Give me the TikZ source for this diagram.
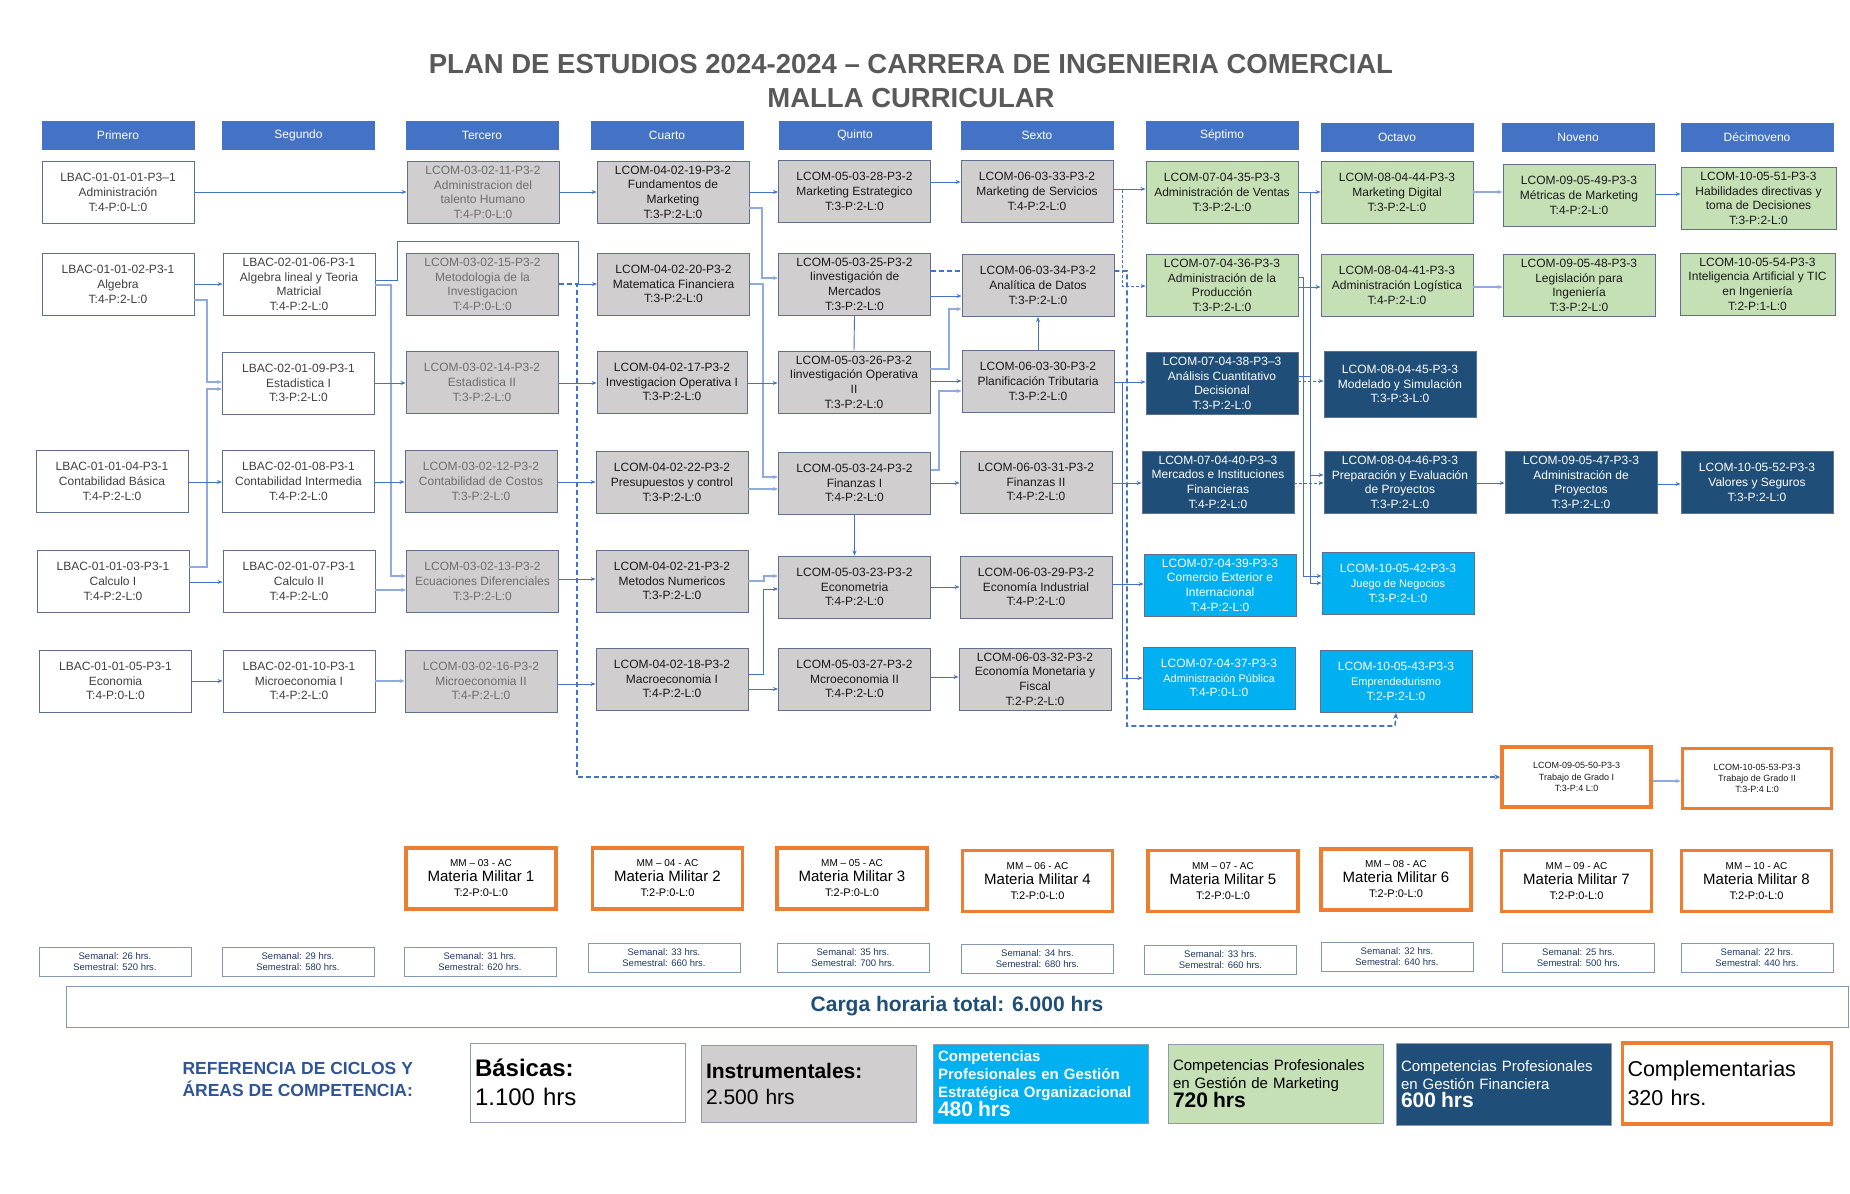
\documentclass[tikz,border=0pt]{standalone}
\usepackage{fontspec}
\setmainfont{Liberation Sans}
\usetikzlibrary{arrows.meta}

\definecolor{hdrb}{HTML}{4472C4}
\definecolor{bord}{HTML}{5F6F8C}
\definecolor{insf}{HTML}{D0CECE}
\definecolor{mktf}{HTML}{C5E0B4}
\definecolor{finf}{HTML}{1F4E79}
\definecolor{orgf}{HTML}{00B0F0}
\definecolor{orng}{HTML}{ED7D31}
\definecolor{lnk}{HTML}{4472C4}
\definecolor{lnkl}{HTML}{8FAADC}
\definecolor{semt}{HTML}{1F3864}
\definecolor{semb}{HTML}{8497B0}
\definecolor{ttlg}{HTML}{595959}
\definecolor{txtb}{HTML}{404040}
\definecolor{txtt}{HTML}{6E6E6E}
\definecolor{txtd}{HTML}{1A1A1A}
\definecolor{refb}{HTML}{2F5597}
\definecolor{cargb}{HTML}{1F4E79}

\newcommand{\milit}[2]{{\fontsize{10}{12}\selectfont MM – #1 - AC}\\[3pt]{\fontsize{15}{17}\selectfont Materia Militar #2}\\[3pt]{\fontsize{11}{13}\selectfont T:2-P:0-L:0}}

\begin{document}
\begin{tikzpicture}[x=1pt, y=-1pt,
    cur/.style={draw=bord, line width=0.9pt, minimum width=152pt, minimum height=62pt, inner sep=1pt, align=center, text=txtd, font=\fontsize{12}{14.7}\selectfont},
    bas/.style={cur, fill=white, text=txtb},
    ins/.style={cur, fill=insf},
    ter/.style={ins, text=txtt},
    mkt/.style={cur, fill=mktf},
    fin/.style={cur, fill=finf, text=white},
    org/.style={cur, fill=orgf, text=white},
    tgr/.style={cur, draw=orng, line width=3.5pt, minimum width=149pt, minimum height=60pt, fill=white, font=\fontsize{9}{11.3}\selectfont},
    mil/.style={draw=orng, line width=3.5pt, minimum width=150pt, minimum height=61pt, inner sep=1pt, align=center, fill=white, text=black},
    hdr/.style={draw=hdrb, fill=hdrb, minimum width=152pt, minimum height=28pt, text=white, font=\fontsize{12}{14}\selectfont},
    sem/.style={draw=semb, line width=0.9pt, minimum width=152pt, minimum height=29pt, inner sep=1pt, align=center, text=semt, font=\fontsize{9.5}{11}\selectfont},
    leg/.style={draw=bord!70, line width=0.9pt, minimum height=79pt, text width=205pt, inner sep=5pt, align=left},
    arr/.style={-{Stealth[length=5pt, width=4pt]}, draw=lnk, line width=0.9pt},
    arrl/.style={arr, draw=lnkl, line width=1.4pt},
    dsh/.style={draw=lnk, line width=1.6pt, dash pattern=on 5pt off 3pt},
    dot/.style={arr, line width=0.8pt, dash pattern=on 3pt off 2pt}
]
\useasboundingbox (0,0) rectangle (1850,1194);

% title
\node[align=center, text=ttlg, font=\bfseries\fontsize{27.5}{34}\selectfont] (title) at (911,81) {PLAN DE ESTUDIOS 2024-2024 – CARRERA DE INGENIERIA COMERCIAL\\MALLA CURRICULAR};

% semesters
\node[hdr] (h1) at (118,135) {Primero};
\node[hdr] (h2) at (298.5,135) {Segundo};
\node[hdr] (h3) at (482,135) {Tercero};
\node[hdr] (h4) at (667,135.5) {Cuarto};
\node[hdr] (h5) at (855,135.5) {Quinto};
\node[hdr] (h6) at (1037,135) {Sexto};
\node[hdr] (h7) at (1222,135) {Séptimo};
\node[hdr] (h8) at (1397,137.5) {Octavo};
\node[hdr] (h9) at (1578,137.5) {Noveno};
\node[hdr] (h10) at (1757,137.5) {Décimoveno};

% first semester
\node[bas] (s1adm) at (118,192.5) {LBAC-01-01-01-P3–1\\Administración\\T:4-P:0-L:0};
\node[bas] (s1alg) at (118,284.5) {LBAC-01-01-02-P3-1\\Algebra\\T:4-P:2-L:0};
\node[bas] (s1cbas) at (112,481.5) {LBAC-01-01-04-P3-1\\Contabilidad Básica\\T:4-P:2-L:0};
\node[bas] (s1cal) at (113,581.5) {LBAC-01-01-03-P3-1\\Calculo I\\T:4-P:2-L:0};
\node[bas] (s1eco) at (115.5,681) {LBAC-01-01-05-P3-1\\Economia\\T:4-P:0-L:0};

% second semester
\node[bas] (s2alg) at (299,284.5) {LBAC-02-01-06-P3-1\\Algebra lineal y Teoria\\Matricial\\T:4-P:2-L:0};
\node[bas] (s2est) at (298.5,383) {LBAC-02-01-09-P3-1\\Estadistica I\\T:3-P:2-L:0};
\node[bas] (s2cont) at (298.5,481.5) {LBAC-02-01-08-P3-1\\Contabilidad Intermedia\\T:4-P:2-L:0};
\node[bas] (s2cal) at (299,581.5) {LBAC-02-01-07-P3-1\\Calculo II\\T:4-P:2-L:0};
\node[bas] (s2mic) at (299,681) {LBAC-02-01-10-P3-1\\Microeconomia I\\T:4-P:2-L:0};

% third semester
\node[ter] (s3tal) at (483,192.5) {LCOM-03-02-11-P3-2\\Administracion del\\talento Humano\\T:4-P:0-L:0};
\node[ter] (s3met) at (482.5,284.5) {LCOM-03-02-15-P3-2\\Metodologia de la\\Investigacion\\T:4-P:0-L:0};
\node[ter] (s3est) at (482,382.5) {LCOM-03-02-14-P3-2\\Estadistica II\\T:3-P:2-L:0};
\node[ter] (s3cost) at (481,481.5) {LCOM-03-02-12-P3-2\\Contabilidad de Costos\\T:3-P:2-L:0};
\node[ter] (s3ecu) at (482.5,581.5) {LCOM-03-02-13-P3-2\\Ecuaciones Diferenciales\\T:3-P:2-L:0};
\node[ter] (s3mic) at (481,681) {LCOM-03-02-16-P3-2\\Microeconomia II\\T:4-P:2-L:0};

% fourth semester
\node[ins] (s4fun) at (673,192) {LCOM-04-02-19-P3-2\\Fundamentos de\\Marketing\\T:3-P:2-L:0};
\node[ins] (s4mat) at (673.5,284) {LCOM-04-02-20-P3-2\\Matematica Financiera\\T:3-P:2-L:0};
\node[ins, minimum width=150pt] (s4iop) at (672,382) {LCOM-04-02-17-P3-2\\Investigacion Operativa I\\T:3-P:2-L:0};
\node[ins] (s4pre) at (672,482.5) {LCOM-04-02-22-P3-2\\Presupuestos y control\\T:3-P:2-L:0};
\node[ins] (s4num) at (672,581) {LCOM-04-02-21-P3-2\\Metodos Numericos\\T:3-P:2-L:0};
\node[ins] (s4mac) at (672,679) {LCOM-04-02-18-P3-2\\Macroeconomia I\\T:4-P:2-L:0};

% fifth semester
\node[ins] (s5mkt) at (854.5,191.5) {LCOM-05-03-28-P3-2\\Marketing Estrategico\\T:3-P:2-L:0};
\node[ins] (s5imer) at (854.5,284) {LCOM-05-03-25-P3-2\\Iinvestigación de\\Mercados\\T:3-P:2-L:0};
\node[ins] (s5iop) at (854,382) {LCOM-05-03-26-P3-2\\Iinvestigación Operativa\\II\\T:3-P:2-L:0};
\node[ins] (s5fin) at (854.5,483) {LCOM-05-03-24-P3-2\\Finanzas I\\T:4-P:2-L:0};
\node[ins] (s5ectr) at (854.5,587) {LCOM-05-03-23-P3-2\\Econometria\\T:4-P:2-L:0};
\node[ins] (s5mic) at (854.5,679) {LCOM-05-03-27-P3-2\\Mcroeconomia II\\T:4-P:2-L:0};

% sixth semester
\node[ins] (s6mkt) at (1037,191.5) {LCOM-06-03-33-P3-2\\Marketing de Servicios\\T:4-P:2-L:0};
\node[ins] (s6dat) at (1038,285.5) {LCOM-06-03-34-P3-2\\Analítica de Datos\\T:3-P:2-L:0};
\node[ins] (s6trib) at (1038,381.5) {LCOM-06-03-30-P3-2\\Planificación Tributaria\\T:3-P:2-L:0};
\node[ins] (s6fin) at (1036,482) {LCOM-06-03-31-P3-2\\Finanzas II\\T:4-P:2-L:0};
\node[ins] (s6ind) at (1036,587) {LCOM-06-03-29-P3-2\\Economía Industrial\\T:4-P:2-L:0};
\node[ins] (s6mon) at (1035,679) {LCOM-06-03-32-P3-2\\Economía Monetaria y\\Fiscal\\T:2-P:2-L:0};

% seventh semester
\node[mkt] (s7ven) at (1222,192.5) {LCOM-07-04-35-P3-3\\Administración de Ventas\\T:3-P:2-L:0};
\node[mkt] (s7prod) at (1222,285.5) {LCOM-07-04-36-P3-3\\Administración de la\\Producción\\T:3-P:2-L:0};
\node[fin] (s7acd) at (1222,383.5) {LCOM-07-04-38-P3–3\\Análisis Cuantitativo\\Decisional\\T:3-P:2-L:0};
\node[fin] (s7mif) at (1218,482) {LCOM-07-04-40-P3–3\\Mercados e Instituciones\\Financieras\\T:4-P:2-L:0};
\node[org] (s7cei) at (1220,585) {LCOM-07-04-39-P3-3\\Comercio Exterior e\\Internacional\\T:4-P:2-L:0};
\node[org] (s7pub) at (1219,678) {LCOM-07-04-37-P3-3\\{\fontsize{11}{13}\selectfont Administración Pública}\\T:4-P:0-L:0};

% eighth semester
\node[mkt] (s8dig) at (1397,192.5) {LCOM-08-04-44-P3-3\\Marketing Digital\\T:3-P:2-L:0};
\node[mkt] (s8log) at (1397,285.5) {LCOM-08-04-41-P3-3\\Administración Logística\\T:4-P:2-L:0};
\node[fin, minimum height=66pt] (s8mod) at (1400,384) {LCOM-08-04-45-P3-3\\Modelado y Simulación\\T:3-P:3-L:0};
\node[fin] (s8pep) at (1400,482.5) {LCOM-08-04-46-P3-3\\Preparación y Evaluación\\de Proyectos\\T:3-P:2-L:0};
\node[org] (s8jue) at (1398,583.5) {LCOM-10-05-42-P3-3\\{\fontsize{11}{13}\selectfont Juego de Negocios}\\T:3-P:2-L:0};
\node[org] (s8emp) at (1396,681.5) {LCOM-10-05-43-P3-3\\{\fontsize{11}{13}\selectfont Emprendedurismo}\\T:2-P:2-L:0};

% ninth semester
\node[mkt] (s9met) at (1579,195.5) {LCOM-09-05-49-P3-3\\Métricas de Marketing\\T:4-P:2-L:0};
\node[mkt] (s9leg) at (1579,285.5) {LCOM-09-05-48-P3-3\\Legislación para\\Ingeniería\\T:3-P:2-L:0};
\node[fin] (s9adp) at (1581,482.5) {LCOM-09-05-47-P3-3\\Administración de\\Proyectos\\T:3-P:2-L:0};
\node[tgr] (s9tg) at (1576.5,777) {LCOM-09-05-50-P3-3\\Trabajo de Grado I\\T:3-P:4 L:0};

% tenth semester
\node[mkt, minimum width=155pt] (s10hab) at (1758.5,198.5) {LCOM-10-05-51-P3-3\\Habilidades directivas y\\toma de Decisiones\\T:3-P:2-L:0};
\node[mkt, minimum width=155pt] (s10ia) at (1757.5,284) {LCOM-10-05-54-P3-3\\Inteligencia Artificial y TIC\\en Ingeniería\\T:2-P:1-L:0};
\node[fin] (s10val) at (1757,482.5) {LCOM-10-05-52-P3-3\\Valores y Seguros\\T:3-P:2-L:0};
\node[tgr] (s10tg) at (1757,778.5) {LCOM-10-05-53-P3-3\\Trabajo de Grado II\\T:3-P:4 L:0};

% military subjects
\node[mil] (mm3) at (481,878.5) {\milit{03}{1}};
\node[mil] (mm4) at (667.5,878.5) {\milit{04}{2}};
\node[mil] (mm5) at (852,878.5) {\milit{05}{3}};
\node[mil] (mm6) at (1037.5,881) {\milit{06}{4}};
\node[mil] (mm7) at (1223,881) {\milit{07}{5}};
\node[mil] (mm8) at (1396,879.5) {\milit{08}{6}};
\node[mil] (mm9) at (1576.5,881) {\milit{09}{7}};
\node[mil] (mm10) at (1756.5,881) {\milit{10}{8}};

% weekly load
\node[sem] (w1) at (115,961.5) {Semanal: 26 hrs.\\Semestral: 520 hrs.};
\node[sem] (w2) at (298,961.5) {Semanal: 29 hrs.\\Semestral: 580 hrs.};
\node[sem] (w3) at (480,961.5) {Semanal: 31 hrs.\\Semestral: 620 hrs.};
\node[sem] (w4) at (664,958) {Semanal: 33 hrs.\\Semestral: 660 hrs.};
\node[sem] (w5) at (853,958) {Semanal: 35 hrs.\\Semestral: 700 hrs.};
\node[sem] (w6) at (1037.5,958.5) {Semanal: 34 hrs.\\Semestral: 680 hrs.};
\node[sem] (w7) at (1220.5,959.5) {Semanal: 33 hrs.\\Semestral: 660 hrs.};
\node[sem] (w8) at (1397,957) {Semanal: 32 hrs.\\Semestral: 640 hrs.};
\node[sem] (w9) at (1578.5,958) {Semanal: 25 hrs.\\Semestral: 500 hrs.};
\node[sem] (w10) at (1757,958) {Semanal: 22 hrs.\\Semestral: 440 hrs.};

% total
\node[draw=semb, line width=0.9pt, minimum width=1782pt, minimum height=41pt, text=cargb, font=\bfseries\fontsize{21}{24}\selectfont] (carga) at (957,1006.5) {Carga horaria total: 6.000 hrs};

% legend
\node[anchor=west, align=left, text=refb, font=\bfseries\fontsize{17.5}{22}\selectfont] (ref) at (179,1079) {REFERENCIA DE CICLOS Y\\ÁREAS DE COMPETENCIA:};
\node[leg, fill=white, font=\fontsize{24}{29}\selectfont] (lbas) at (577.5,1082.5) {\textbf{Básicas:}\\1.100 hrs};
\node[leg, fill=insf, minimum height=77pt, font=\fontsize{21}{26}\selectfont] (lins) at (808.5,1083.5) {\textbf{Instrumentales:}\\2.500 hrs};
\node[leg, fill=orgf, text=white, font=\bfseries\fontsize{15}{18}\selectfont] (lorg) at (1040.5,1083.5) {Competencias\\Profesionales en Gestión\\Estratégica Organizacional\\{\fontsize{21}{22}\selectfont 480 hrs}};
\node[leg, fill=mktf, font=\fontsize{15}{18}\selectfont] (lmkt) at (1275.5,1083.5) {Competencias Profesionales\\en Gestión de Marketing\\{\bfseries\fontsize{21}{24}\selectfont 720 hrs}};
\node[leg, fill=finf, text=white, minimum height=82pt, font=\fontsize{15}{18}\selectfont] (lfin) at (1503.5,1084) {Competencias Profesionales\\en Gestión Financiera\\{\bfseries\fontsize{21}{24}\selectfont 600 hrs}};
\node[leg, draw=orng, line width=3.5pt, fill=white, text width=199pt, minimum height=81pt, font=\fontsize{21.5}{29}\selectfont] (lcom) at (1727,1083.5) {Complementarias\\320 hrs.};

% first -> second / third
\draw[arr] (s1adm.east |- 0,192) -- (s3tal.west |- 0,192);
\draw[arr] (s1alg.east |- 0,284) -- (s2alg.west |- 0,284);
\draw[arrl] (s1alg.east |- 0,300) -- (207,300) -- (207,382) -- (s2est.west |- 0,382);
\draw[arrl] (s1cal.east |- 0,567) -- (207,567) -- (207,389) -- (s2est.west |- 0,389);
\draw[arr] (s1cbas.east |- 0,482) -- (s2cont.west |- 0,482);
\draw[arr] (s1cal.east |- 0,582) -- (s2cal.west |- 0,582);
\draw[arr] (s1eco.east |- 0,681) -- (s2mic.west |- 0,681);

% second -> third / fourth
\draw[arr] (s2alg.east |- 0,280) -- (397,280) -- (397,241) -- (578,241) -- (578,284) -- (s4mat.west |- 0,284);
\draw[arrl] (s2alg.east |- 0,285) -- (391,285) -- (391,576) -- (s3ecu.west |- 0,576);
\draw[arrl] (s2cal.east |- 0,590) -- (s3ecu.west |- 0,590);
\draw[arr] (s2est.east |- 0,383) -- (s3est.west |- 0,383);
\draw[arr] (s2cont.east |- 0,482) -- (s3cost.west |- 0,482);
\draw[arrl] (s2mic.east |- 0,681) -- (s3mic.west |- 0,681);

% third -> fourth
\draw[arr] (s3tal.east |- 0,192) -- (s4fun.west |- 0,192);
\draw[dsh, -{Stealth[length=6pt, width=5pt]}] (s3met.east |- 0,284) -- (577,284) -- (577,777) -- (s9tg.west |- 0,777);
\draw[arr] (s3est.east |- 0,383) -- (s4iop.west |- 0,383);
\draw[arr] (s3cost.east |- 0,482) -- (s4pre.west |- 0,482);
\draw[arr] (s3ecu.east |- 0,579) -- (s4num.west |- 0,579);
\draw[arr] (s3mic.east |- 0,684) -- (s4mac.west |- 0,684);

% fourth -> fifth
\draw[arr] (s4fun.east |- 0,192) -- (s5mkt.west |- 0,192);
\draw[arrl] (s4fun.east |- 0,208) -- (762,208) -- (762,278) -- (s5imer.west |- 0,278);
\draw[arrl] (s4mat.east |- 0,284) -- (763,284) -- (763,477) -- (s5fin.west |- 0,477);
\draw[arrl] (s4pre.east |- 0,489) -- (s5fin.west |- 0,489);
\draw[arr] (s4iop.east |- 0,383) -- (s5iop.west |- 0,383);
\draw[arrl] (s4num.east |- 0,581) -- (764,581) -- (764,576) -- (s5ectr.west |- 0,576);
\draw[arr] (s4mac.east |- 0,674) -- (763,674) -- (763,589) -- (s5ectr.west |- 0,589);
\draw[arr] (s4mac.east |- 0,689) -- (s5mic.west |- 0,689);

% fifth -> sixth
\draw[arr] (s5mkt.east |- 0,182) -- (s6mkt.west |- 0,182);
\draw[dsh] (s5imer.east |- 0,271) -- (s6dat.west |- 0,271);
\draw[dsh, -{Stealth[length=6pt, width=5pt]}] (s6dat.east |- 0,271) -- (1127,271) -- (1127,726) -- (1395,726) -- (s8emp.south);
\draw[arr] (s5imer.east |- 0,296) -- (s6dat.west |- 0,296);
\draw[draw=lnk, line width=0.9pt] (s5imer.south) -- (s5iop.north);
\draw[arrl] (s5iop.east |- 0,369) -- (949,369) -- (949,309) -- (s6dat.west |- 0,309);
\draw[arr] (s5iop.east |- 0,381) -- (s6trib.west |- 0,381);
\draw[arrl] (s5fin.east |- 0,470) -- (939,470) -- (939,391) -- (s6trib.west |- 0,391);
\draw[arr] (s6trib.north) -- (s6dat.south);
\draw[arr] (s5fin.east |- 0,483) -- (s6fin.west |- 0,483);
\draw[arr] (s5fin.south) -- (s5ectr.north);
\draw[arr] (s5ectr.east |- 0,587) -- (s6ind.west |- 0,587);
\draw[arr] (s5mic.east |- 0,677) -- (s6mon.west |- 0,677);

% sixth -> seventh
\draw[arr] (s6mkt.east |- 0,189) -- (s7ven.west |- 0,189);
\draw[dot] (s6mkt.east |- 0,189) -- (1122,189) -- (1122,286) -- (s7prod.west |- 0,286);
\draw[arr] (s6trib.east |- 0,382) -- (s7acd.west |- 0,382);
\draw[arr] (s6trib.east |- 0,382) -- (1122,382) -- (1122,678) -- (s7pub.west |- 0,678);
\draw[arr] (s6fin.east |- 0,483) -- (s7mif.west |- 0,483);
\draw[arr] (s6ind.east |- 0,584) -- (s7cei.west |- 0,584);

% seventh -> eighth
\draw[arr] (s7ven.east |- 0,192) -- (s8dig.west |- 0,192);
\draw[arr] (s7ven.east |- 0,192) -- (1310,192) -- (1310,583) -- (s8jue.west |- 0,583);
\draw[arr] (s7ven.east |- 0,192) -- (1310,192) -- (1310,475) -- (s8pep.west |- 0,475);
\draw[draw=lnk, line width=0.9pt] (s7acd.east |- 0,376) -- (1310,376);
\draw[arr] (s7prod.east |- 0,277) -- (1303,277) -- (1303,576) -- (s8jue.west |- 0,576);
\draw[arr] (s7prod.east |- 0,287) -- (s8log.west |- 0,287);
\draw[dot] (s7acd.east |- 0,381) -- (s8mod.west |- 0,381);
\draw[dot] (s7mif.east |- 0,483) -- (s8pep.west |- 0,483);

% eighth -> ninth -> tenth
\draw[arrl] (s8dig.east |- 0,192) -- (s9met.west |- 0,192);
\draw[arr] (s9met.east |- 0,194) -- (s10hab.west |- 0,194);
\draw[arrl] (s8log.east |- 0,287) -- (s9leg.west |- 0,287);
\draw[arr] (s8pep.east |- 0,483) -- (s9adp.west |- 0,483);
\draw[arr] (s9adp.east |- 0,484) -- (s10val.west |- 0,484);
\draw[arrl] (s9tg.east |- 0,781) -- (s10tg.west |- 0,781);
\end{tikzpicture}
\end{document}
